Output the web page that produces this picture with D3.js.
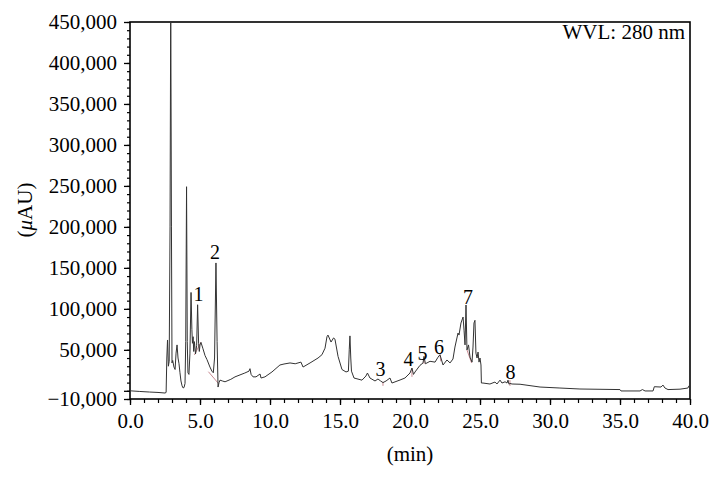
<!DOCTYPE html>
<html>
<head>
<meta charset="utf-8">
<script src="https://cdn.jsdelivr.net/npm/d3@7"></script>
<style>
  body { margin: 0; background: #fff; }
  text { font-family: "Liberation Serif", "DejaVu Serif", serif; fill: #000; }
</style>
</head>
<body>
<div id="chart"></div>
<script>
// retention time (min) and detector response (µAU)
const retentionTime = [
  0.0, 0.7, 1.4, 2.0, 2.5, 2.58, 2.63, 2.68, 2.74, 2.8, 2.86, 2.91, 2.96, 3.0,
  3.05, 3.14, 3.22, 3.29, 3.36, 3.43, 3.5, 3.57, 3.64, 3.72, 3.79, 3.86, 3.93,
  3.98, 4.04, 4.09, 4.14, 4.21, 4.28, 4.36, 4.42, 4.46, 4.51, 4.55, 4.6, 4.68,
  4.76, 4.83, 4.9, 4.95, 5.0, 5.07, 5.2, 5.36, 5.5, 5.71, 5.85, 5.95, 6.04,
  6.14, 6.22, 6.29, 6.36, 6.43, 6.6, 6.79, 7.2, 7.5, 8.2, 8.5, 8.57, 8.65,
  8.79, 9.0, 9.29, 9.36, 9.64, 10.14, 10.71, 11.0, 11.43, 11.8, 12.21, 12.36,
  12.86, 13.43, 13.71, 13.93, 14.07, 14.14, 14.36, 14.54, 14.64, 14.86, 15.14,
  15.43, 15.6, 15.66, 15.71, 15.77, 15.82, 16.0, 16.57, 16.85, 16.96, 17.14,
  17.5, 17.71, 17.9, 18.07, 18.29, 18.57, 18.71, 19.29, 19.64, 20.0, 20.14,
  20.25, 20.36, 20.71, 20.93, 21.0, 21.1, 21.43, 21.79, 22.0, 22.14, 22.36,
  22.64, 22.86, 23.07, 23.21, 23.43, 23.5, 23.64, 23.79, 23.86, 23.93, 24.0,
  24.07, 24.18, 24.29, 24.43, 24.5, 24.57, 24.64, 24.71, 24.79, 24.86, 24.93,
  25.0, 25.07, 25.1, 25.21, 25.71, 26.07, 26.21, 26.43, 26.57, 26.79, 26.93,
  27.0, 27.07, 27.14, 27.29, 27.86, 29.29, 30.71, 32.14, 35.0, 35.07, 36.43,
  36.6, 36.79, 37.36, 37.45, 37.93, 38.07, 38.21, 38.43, 39.29, 39.85, 39.93, 40.0
]
const response = [
  0, -800, -1500, -2000, -2700, -2000, 40000, 62000, 30000, 36000, 200000, 480000, 200000, 34000,
  37000, 29000, 26000, 46000, 56000, 40000, 33000, 22000, 12000, 6000, 3500, 4000, 9000,
  60000, 249000, 60000, 22000, 20000, 45000, 120000, 75000, 58000, 66000, 48000, 60000, 45000,
  55000, 105000, 58000, 48000, 56000, 59000, 52000, 43000, 38000, 29000, 24000, 22000, 40000,
  156000, 60000, 4600, 10000, 13000, 12000, 11000, 14000, 17000, 21700, 24000, 27000, 20000,
  17000, 17000, 20500, 15600, 17000, 23000, 31500, 32700, 34000, 33000, 35000, 29000,
  34000, 40000, 44000, 52000, 66000, 68000, 59500, 64500, 63000, 42000, 26000,
  23000, 24000, 50000, 67000, 40000, 24000, 15600, 13000, 18000, 21700, 15600,
  12000, 14400, 12000, 10000, 12000, 15600, 9500, 13200, 15600, 21700, 27800,
  20000, 23000, 31000, 34000, 42000, 33000, 36000, 35000, 41000, 44000, 31500,
  37600, 34000, 38800, 53400, 70500, 68000, 82700, 90000, 74000, 56000, 104700,
  49800, 56000, 41000, 35000, 53400, 82700, 86000, 46000, 40000, 47300, 35000,
  40000, 31500, 9500, 9500, 8300, 10700, 8300, 13000, 9500, 11000, 9500,
  13000, 8000, 9000, 8300, 8000, 4600, 3400, 2200, 1500, -200, -200,
  1500, -200, -200, 5000, 4600, 7000, 3400, 1500, 2000, 3400, 6000, 3000
]

// integration baselines drawn by the software: [t1, v1, t2, v2]
const baselineMarks = [
  [4.6, 43700, 5.07, 59500],
  [5.6, 23300, 6.31, 9100],
  [18.07, 11000, 18.07, 6000],
  [20.14, 27000, 20.14, 17000],
  [21.0, 40000, 21.0, 33000],
  [22.14, 44000, 22.2, 36000],
  [24.07, 49800, 24.4, 34000],
  [27.14, 13000, 27.14, 6000]
]

const peakNames = ['1', '2', '3', '4', '5', '6', '7', '8']
const peakTimes = [4.89, 6.07, 17.89, 19.89, 20.89, 22.07, 24.14, 27.18]
const peakLabelLevels = [109600, 160800, 18000, 30300, 37600, 44900, 105900, 14400]

const xTicks = d3.range(0, 40.1, 5)
const xMinorTicks = d3.range(0, 40.1, 1)
const yTicks = [-10000, 0, 50000, 100000, 150000, 200000, 250000, 300000, 350000, 400000, 450000]
const yMinorTicks = d3.range(-10000, 450001, 10000)

const width = 722
const height = 478
const margin = {top: 22, right: 32, bottom: 79, left: 130}

const svg = d3.select('#chart')
  .append('svg')
    .attr('width', width)
    .attr('height', height)

const x = d3.scaleLinear()
  .domain([0, 40])
  .range([margin.left, width - margin.right])

const y = d3.scaleLinear()
  .domain([-10000, 450000])
  .range([height - margin.bottom, margin.top])

svg.append('clipPath')
  .attr('id', 'plot-clip')
  .append('rect')
    .attr('x', x(0))
    .attr('y', y(450000))
    .attr('width', x(40) - x(0))
    .attr('height', y(-10000) - y(450000))

// minor ticks first, majors on top
svg.append('g')
  .attr('transform', 'translate(0,' + y(-10000) + ')')
  .call(d3.axisBottom(x).tickValues(xMinorTicks).tickSize(4).tickFormat(''))
  .call(g => g.select('.domain').remove())
  .call(g => g.selectAll('line').attr('stroke-width', 1.2))

svg.append('g')
  .attr('transform', 'translate(' + x(0) + ',0)')
  .call(d3.axisLeft(y).tickValues(yMinorTicks).tickSize(3).tickFormat(''))
  .call(g => g.select('.domain').remove())
  .call(g => g.selectAll('line').attr('stroke-width', 1.2))

const xAxis = svg.append('g')
  .attr('transform', 'translate(0,' + y(-10000) + ')')
  .call(d3.axisBottom(x).tickValues(xTicks).tickSize(6).tickSizeOuter(0)
    .tickPadding(8).tickFormat(d3.format('.1f')))

xAxis.select('.domain').remove()
xAxis.selectAll('line').attr('stroke-width', 1.3)
xAxis.selectAll('text')
  .style('font-size', '21px')
  .style('font-family', '"Liberation Serif", serif')

const yAxis = svg.append('g')
  .attr('transform', 'translate(' + x(0) + ',0)')
  .call(d3.axisLeft(y).tickValues(yTicks).tickSize(6).tickSizeOuter(0)
    .tickPadding(7).tickFormat(d => d === 0 ? '' : d3.format(',')(d)))

yAxis.select('.domain').remove()
yAxis.selectAll('line').attr('stroke-width', 1.3)
yAxis.selectAll('text')
  .style('font-size', '21px')
  .style('font-family', '"Liberation Serif", serif')

// frame
svg.append('rect')
  .attr('x', x(0))
  .attr('y', y(450000))
  .attr('width', x(40) - x(0))
  .attr('height', y(-10000) - y(450000))
  .attr('fill', 'none')
  .attr('stroke', '#000')
  .attr('stroke-width', 1.6)

const plot = svg.append('g').attr('clip-path', 'url(#plot-clip)')

plot.selectAll('line.baseline')
  .data(baselineMarks)
  .join('line')
    .attr('class', 'baseline')
    .attr('x1', d => x(d[0]))
    .attr('y1', d => y(d[1]))
    .attr('x2', d => x(d[2]))
    .attr('y2', d => y(d[3]))
    .attr('stroke', '#c98a92')
    .attr('stroke-width', 1)

const line = d3.line()
  .x((d, i) => x(retentionTime[i]))
  .y(d => y(d))

plot.append('path')
  .datum(response)
  .attr('fill', 'none')
  .attr('stroke', '#333')
  .attr('stroke-width', 1)
  .attr('d', line)

svg.selectAll('text.peak')
  .data(peakNames)
  .join('text')
    .attr('class', 'peak')
    .attr('x', (d, i) => x(peakTimes[i]))
    .attr('y', (d, i) => y(peakLabelLevels[i]))
    .attr('text-anchor', 'middle')
    .style('font-size', '20px')
    .text(d => d)

svg.append('text')
  .attr('x', x(40) - 5)
  .attr('y', 39)
  .attr('text-anchor', 'end')
  .style('font-size', '21px')
  .text('WVL: 280 nm')

svg.append('text')
  .attr('x', (x(0) + x(40)) / 2)
  .attr('y', 461)
  .attr('text-anchor', 'middle')
  .style('font-size', '21px')
  .text('(min)')

const yTitle = svg.append('text')
  .attr('transform', 'translate(32,210) rotate(-90)')
  .attr('text-anchor', 'middle')
  .style('font-size', '21px')
yTitle.append('tspan').text('(')
yTitle.append('tspan').style('font-style', 'italic').text('μ')
yTitle.append('tspan').text('AU)')
</script>
</body>
</html>
